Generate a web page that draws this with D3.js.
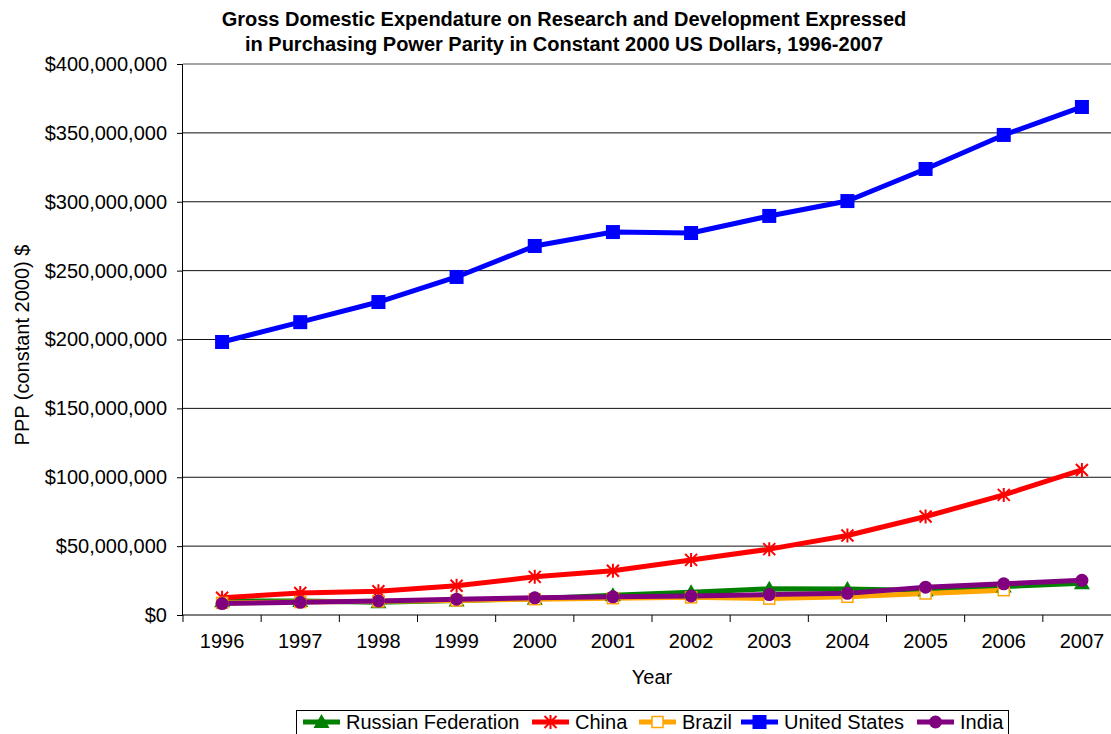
<!DOCTYPE html>
<html>
<head>
  <title>GERD PPP</title>
  <style>
    body { margin: 0; background: #fff; }
    text { font-family: "Liberation Sans", Arial, sans-serif; fill: #000; }
  </style>
</head>
<body>
  <svg id="chart"></svg>
  <script src="https://d3js.org/d3.v7.min.js"></script>
  <script>
    let years = ["1996", "1997", "1998", "1999", "2000", "2001", "2002", "2003", "2004", "2005", "2006", "2007"];
    let russia = [10.0, 10.2, 9.2, 10.6, 11.8, 14.3, 16.5, 19.0, 18.8, 17.8, 20.6, 23.0];
    let china = [12.5, 16.0, 17.2, 21.2, 27.7, 32.1, 40.0, 47.8, 57.7, 71.5, 87.2, 105.3];
    let brazil = [8.8, 9.4, 9.9, 10.6, 11.5, 12.2, 12.8, 11.9, 13.2, 15.6, 18.0, null];
    let usa = [198.2, 212.6, 227.2, 245.4, 267.9, 278.0, 277.3, 289.7, 300.5, 323.8, 348.5, 368.8];
    let india = [8.3, 9.2, 10.2, 11.5, 12.5, 13.2, 13.8, 14.8, 15.7, 20.2, 22.6, 25.2];
    let yTicks = [0, 50, 100, 150, 200, 250, 300, 350, 400];

    let series = [
      { name: "Russian Federation", values: russia, color: "#008000", marker: "triangle" },
      { name: "China", values: china, color: "#ff0000", marker: "star" },
      { name: "Brazil", values: brazil, color: "#ffa500", marker: "hollowSquare" },
      { name: "United States", values: usa, color: "#0000ff", marker: "square" },
      { name: "India", values: india, color: "#800080", marker: "circle" }
    ];

    let width = 1111, height = 734;
    let margin = { top: 64, left: 183 };
    let plotW = 938, plotH = 551;

    let svg = d3.select("#chart").attr("width", width).attr("height", height);
    let container = svg.append("g").attr("transform", `translate(${margin.left}, ${margin.top})`);

    let xScale = d3.scaleBand().domain(years).range([0, plotW]);
    let yScale = d3.scaleLinear().domain([0, 400]).range([plotH, 0]);

    // gridlines
    container.append("g")
      .selectAll("line")
      .data(yTicks.filter(d => d > 0))
      .join("line")
      .attr("x1", 0).attr("x2", plotW)
      .attr("y1", d => yScale(d)).attr("y2", d => yScale(d))
      .attr("stroke", d => d === 400 ? "#888" : "#111")
      .attr("stroke-width", d => d === 400 ? 1.5 : 1);

    // y axis
    let yAxis = container.append("g")
      .call(d3.axisLeft(yScale).tickValues(yTicks).tickSize(6).tickPadding(10)
        .tickFormat(d => "$" + d3.format(",")(d * 1000000)));
    yAxis.select(".domain").attr("d", `M-0.5,0V${plotH}`).attr("stroke", "#000");
    yAxis.selectAll("text").attr("font-size", 20).attr("font-family", "Liberation Sans, Arial, sans-serif");

    // x axis
    let xAxis = container.append("g").attr("transform", `translate(0, ${plotH})`);
    xAxis.append("line").attr("x1", 0).attr("x2", plotW).attr("stroke", "#000");
    xAxis.selectAll(".tick")
      .data(d3.range(years.length + 1))
      .join("line")
      .attr("class", "tick")
      .attr("x1", i => i * xScale.bandwidth()).attr("x2", i => i * xScale.bandwidth())
      .attr("y1", 0).attr("y2", 7)
      .attr("stroke", "#000");
    xAxis.selectAll("text")
      .data(years)
      .join("text")
      .attr("x", d => xScale(d) + xScale.bandwidth() / 2)
      .attr("y", 33)
      .attr("text-anchor", "middle")
      .attr("font-size", 20)
      .text(d => d);

    // lines
    let line = d3.line()
      .defined(d => d.v !== null)
      .x(d => xScale(d.year) + xScale.bandwidth() / 2)
      .y(d => yScale(d.v));

    series.forEach(s => {
      let pts = years.map((y, i) => ({ year: y, v: s.values[i] }));
      container.append("path")
        .datum(pts)
        .attr("d", line)
        .attr("fill", "none")
        .attr("stroke", s.color)
        .attr("stroke-width", 5)
        .attr("stroke-linejoin", "round");
    });

    function drawMarker(g, type, color, cx, cy) {
      if (type === "triangle") {
        g.append("path")
          .attr("d", `M${cx},${cy - 8}L${cx + 8},${cy + 6}L${cx - 8},${cy + 6}Z`)
          .attr("fill", color);
      } else if (type === "star") {
        let r = 6;
        g.append("path")
          .attr("d", `M${cx - r},${cy - r}L${cx + r},${cy + r}M${cx + r},${cy - r}L${cx - r},${cy + r}M${cx},${cy - r - 1}V${cy + r + 1}`)
          .attr("stroke", color).attr("stroke-width", 2).attr("fill", "none");
      } else if (type === "hollowSquare") {
        g.append("rect")
          .attr("x", cx - 5.5).attr("y", cy - 5.5).attr("width", 11).attr("height", 11)
          .attr("fill", "#fff").attr("stroke", color).attr("stroke-width", 1.5);
      } else if (type === "square") {
        g.append("rect")
          .attr("x", cx - 7).attr("y", cy - 7).attr("width", 14).attr("height", 14)
          .attr("fill", color);
      } else if (type === "circle") {
        g.append("circle").attr("cx", cx).attr("cy", cy).attr("r", 6.5).attr("fill", color);
      }
    }

    series.forEach(s => {
      let g = container.append("g");
      years.forEach((y, i) => {
        if (s.values[i] === null) return;
        drawMarker(g, s.marker, s.color, xScale(y) + xScale.bandwidth() / 2, yScale(s.values[i]));
      });
    });

    // titles
    let title = svg.append("text")
      .attr("text-anchor", "middle")
      .attr("font-size", 20).attr("font-weight", "bold");
    title.append("tspan").attr("x", 564).attr("y", 26).text("Gross Domestic Expendature on Research and Development Expressed");
    title.append("tspan").attr("x", 564).attr("y", 51).text("in Purchasing Power Parity in Constant 2000 US Dollars, 1996-2007");

    svg.append("text")
      .attr("transform", "translate(29, 345) rotate(-90)")
      .attr("text-anchor", "middle")
      .attr("font-size", 20)
      .text("PPP (constant 2000) $");

    svg.append("text")
      .attr("x", 652).attr("y", 684)
      .attr("text-anchor", "middle")
      .attr("font-size", 20)
      .text("Year");

    // legend
    let legend = svg.append("g");
    legend.append("rect")
      .attr("x", 296.5).attr("y", 710.5).attr("width", 712).attr("height", 40)
      .attr("fill", "#fff").attr("stroke", "#000");
    let legendX = [303, 532, 639, 741, 917];
    series.forEach((s, i) => {
      let lx = legendX[i], ly = 722;
      legend.append("line")
        .attr("x1", lx).attr("x2", lx + 37).attr("y1", ly).attr("y2", ly)
        .attr("stroke", s.color).attr("stroke-width", 5);
      drawMarker(legend, s.marker, s.color, lx + 18.5, ly);
      legend.append("text")
        .attr("x", lx + 43).attr("y", ly + 7)
        .attr("font-size", 20)
        .text(s.name);
    });
  </script>
</body>
</html>
